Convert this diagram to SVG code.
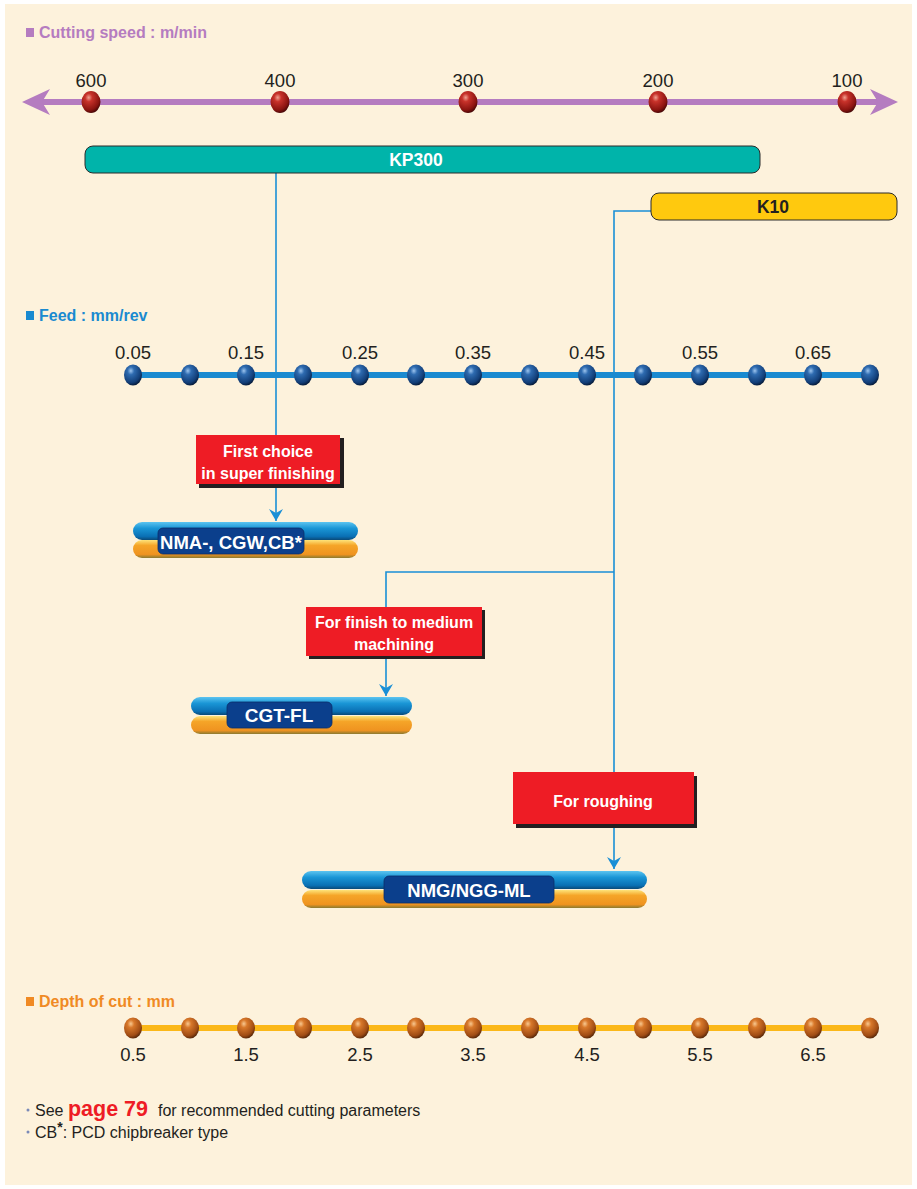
<svg xmlns="http://www.w3.org/2000/svg" width="917" height="1189" viewBox="0 0 917 1189">
<defs>
<style>
.ax{font-family:"Liberation Sans",Arial,sans-serif;font-size:18.5px;fill:#231f20;text-anchor:middle}
.ttl{font-family:"Liberation Sans",Arial,sans-serif;font-size:16px;font-weight:bold}
.wb{font-family:"Liberation Sans",Arial,sans-serif;font-weight:bold;fill:#fff;text-anchor:middle}
.conn{fill:none;stroke:#1a8fd6;stroke-width:1.6}
.red{fill:#ee1c25}
.sh{fill:#231f20}
.lbl{fill:#0b3f8c;stroke:#0a2f6a;stroke-width:0.8}
.foot{font-family:"Liberation Sans",Arial,sans-serif;font-size:16px;fill:#231f20}
</style>
<radialGradient id="gRed" cx="0.38" cy="0.3" r="0.75">
<stop offset="0" stop-color="#f0a090"/><stop offset="0.25" stop-color="#c8322a"/><stop offset="0.75" stop-color="#8a1410"/><stop offset="1" stop-color="#3a0505"/>
</radialGradient>
<radialGradient id="gBlue" cx="0.38" cy="0.3" r="0.75">
<stop offset="0" stop-color="#9cc4ee"/><stop offset="0.25" stop-color="#2e6bb0"/><stop offset="0.75" stop-color="#123e78"/><stop offset="1" stop-color="#04142c"/>
</radialGradient>
<radialGradient id="gOr" cx="0.38" cy="0.3" r="0.75">
<stop offset="0" stop-color="#f8c890"/><stop offset="0.25" stop-color="#d8782a"/><stop offset="0.75" stop-color="#a04c14"/><stop offset="1" stop-color="#4a2006"/>
</radialGradient>
<linearGradient id="gBar" x1="0" y1="0" x2="0" y2="1">
<stop offset="0" stop-color="#5cc4f0"/><stop offset="0.35" stop-color="#1a96d6"/><stop offset="0.8" stop-color="#0a70b4"/><stop offset="1" stop-color="#0a4a78"/>
</linearGradient>
<linearGradient id="gOrBar" x1="0" y1="0" x2="0" y2="1">
<stop offset="0" stop-color="#fde37a"/><stop offset="0.3" stop-color="#f5a528"/><stop offset="0.8" stop-color="#ef9320"/><stop offset="1" stop-color="#8a7a30"/>
</linearGradient>
<marker id="arr" viewBox="0 0 12 14" refX="12" refY="7" markerWidth="12" markerHeight="14" markerUnits="userSpaceOnUse" orient="auto">
<path d="M0,0 L12,7 L0,14 L4,7 z" fill="#1a8fd6"/>
</marker>
</defs>

<rect x="0" y="0" width="917" height="1189" fill="#ffffff"/>
<rect x="5" y="4" width="907" height="1181" fill="#fdf2dc"/>

<g id="speed-axis">
<rect x="26" y="28" width="8" height="9" fill="#b57cc0"/>
<text class="ttl" x="39" y="38" fill="#b57cc0">Cutting speed : m/min</text>
<rect x="40" y="99" width="838" height="6" fill="#b57cc0"/>
<path d="M22,102 L50,89 L42,102 L50,115 z" fill="#b57cc0"/>
<path d="M898,102 L870,89 L878,102 L870,115 z" fill="#b57cc0"/>
<g fill="url(#gRed)">
<ellipse cx="91" cy="102" rx="9.5" ry="11"/>
<ellipse cx="280" cy="102" rx="9.5" ry="11"/>
<ellipse cx="468" cy="102" rx="9.5" ry="11"/>
<ellipse cx="658" cy="102" rx="9.5" ry="11"/>
<ellipse cx="847" cy="102" rx="9.5" ry="11"/>
</g>
<text class="ax" x="91" y="87">600</text>
<text class="ax" x="280" y="87">400</text>
<text class="ax" x="468" y="87">300</text>
<text class="ax" x="658" y="87">200</text>
<text class="ax" x="847" y="87">100</text>
</g>

<g id="connectors">
<path class="conn" d="M276,173 V521" marker-end="url(#arr)"/>
<path class="conn" d="M651,211 H614 V869" marker-end="url(#arr)"/>
<path class="conn" d="M614,572 H386 V696" marker-end="url(#arr)"/>
</g>

<g id="kp300">
<rect x="85" y="146" width="675" height="27" rx="8" fill="#00b4aa" stroke="#2a2a2a" stroke-width="1"/>
<text class="wb" x="416" y="166" font-size="17.5">KP300</text>
</g>

<g id="k10">
<rect x="651" y="193" width="246" height="27" rx="8" fill="#ffc90e" stroke="#2a2a2a" stroke-width="1"/>
<text x="773" y="213" font-family="Liberation Sans, Arial, sans-serif" font-weight="bold" font-size="17.5" fill="#231f20" text-anchor="middle">K10</text>
</g>

<g id="feed-axis">
<rect x="26" y="311" width="8" height="9" fill="#1a8ad0"/>
<text class="ttl" x="39" y="321" fill="#1a8ad0">Feed : mm/rev</text>
<rect x="133" y="372" width="737" height="6" fill="#1a8ad0"/>
<g fill="url(#gBlue)">
<ellipse cx="133" cy="375" rx="9" ry="10.5"/>
<ellipse cx="190" cy="375" rx="9" ry="10.5"/>
<ellipse cx="246" cy="375" rx="9" ry="10.5"/>
<ellipse cx="303" cy="375" rx="9" ry="10.5"/>
<ellipse cx="360" cy="375" rx="9" ry="10.5"/>
<ellipse cx="416" cy="375" rx="9" ry="10.5"/>
<ellipse cx="473" cy="375" rx="9" ry="10.5"/>
<ellipse cx="530" cy="375" rx="9" ry="10.5"/>
<ellipse cx="587" cy="375" rx="9" ry="10.5"/>
<ellipse cx="643" cy="375" rx="9" ry="10.5"/>
<ellipse cx="700" cy="375" rx="9" ry="10.5"/>
<ellipse cx="757" cy="375" rx="9" ry="10.5"/>
<ellipse cx="813" cy="375" rx="9" ry="10.5"/>
<ellipse cx="870" cy="375" rx="9" ry="10.5"/>
</g>
<text class="ax" x="133" y="359">0.05</text>
<text class="ax" x="246" y="359">0.15</text>
<text class="ax" x="360" y="359">0.25</text>
<text class="ax" x="473" y="359">0.35</text>
<text class="ax" x="587" y="359">0.45</text>
<text class="ax" x="700" y="359">0.55</text>
<text class="ax" x="813" y="359">0.65</text>
</g>

<g id="note-super-finishing">
<rect class="sh" x="199" y="438" width="145" height="50"/>
<rect class="red" x="196" y="435" width="144" height="49"/>
<text class="wb" x="268" y="457" font-size="16">First choice</text>
<text class="wb" x="268" y="479" font-size="16">in super finishing</text>
</g>

<g id="insert-nma">
<rect x="133" y="540" width="225" height="18" rx="9" fill="url(#gOrBar)"/>
<rect x="133" y="522" width="225" height="18" rx="9" fill="url(#gBar)"/>
<rect class="lbl" x="158" y="528" width="146" height="26" rx="5"/>
<text class="wb" x="231" y="549" font-size="18.5">NMA-, CGW,CB*</text>
</g>

<g id="note-finish-medium">
<rect class="sh" x="309" y="610" width="176" height="49"/>
<rect class="red" x="306" y="607" width="176" height="49"/>
<text class="wb" x="394" y="628" font-size="16">For finish to medium</text>
<text class="wb" x="394" y="650" font-size="16">machining</text>
</g>

<g id="insert-cgt">
<rect x="191" y="716" width="221" height="18" rx="9" fill="url(#gOrBar)"/>
<rect x="191" y="697" width="221" height="18" rx="9" fill="url(#gBar)"/>
<rect class="lbl" x="227" y="702" width="105" height="26" rx="5"/>
<text class="wb" x="279" y="722" font-size="19">CGT-FL</text>
</g>

<g id="note-roughing">
<rect class="sh" x="516" y="776" width="181" height="52"/>
<rect class="red" x="513" y="772" width="181" height="52"/>
<text class="wb" x="603" y="807" font-size="16">For roughing</text>
</g>

<g id="insert-nmg">
<rect x="302" y="890" width="345" height="18" rx="9" fill="url(#gOrBar)"/>
<rect x="302" y="871" width="345" height="18" rx="9" fill="url(#gBar)"/>
<rect class="lbl" x="384" y="876" width="170" height="27" rx="5"/>
<text class="wb" x="469" y="897" font-size="18.5">NMG/NGG-ML</text>
</g>

<g id="depth-axis">
<rect x="26" y="997" width="8" height="9" fill="#f08a24"/>
<text class="ttl" x="39" y="1007" fill="#f08a24">Depth of cut : mm</text>
<rect x="133" y="1025" width="737" height="6" fill="#fbb819"/>
<g fill="url(#gOr)">
<ellipse cx="133" cy="1028" rx="9" ry="10.5"/>
<ellipse cx="190" cy="1028" rx="9" ry="10.5"/>
<ellipse cx="246" cy="1028" rx="9" ry="10.5"/>
<ellipse cx="303" cy="1028" rx="9" ry="10.5"/>
<ellipse cx="360" cy="1028" rx="9" ry="10.5"/>
<ellipse cx="416" cy="1028" rx="9" ry="10.5"/>
<ellipse cx="473" cy="1028" rx="9" ry="10.5"/>
<ellipse cx="530" cy="1028" rx="9" ry="10.5"/>
<ellipse cx="587" cy="1028" rx="9" ry="10.5"/>
<ellipse cx="643" cy="1028" rx="9" ry="10.5"/>
<ellipse cx="700" cy="1028" rx="9" ry="10.5"/>
<ellipse cx="757" cy="1028" rx="9" ry="10.5"/>
<ellipse cx="813" cy="1028" rx="9" ry="10.5"/>
<ellipse cx="870" cy="1028" rx="9" ry="10.5"/>
</g>
<text class="ax" x="133" y="1061">0.5</text>
<text class="ax" x="246" y="1061">1.5</text>
<text class="ax" x="360" y="1061">2.5</text>
<text class="ax" x="473" y="1061">3.5</text>
<text class="ax" x="587" y="1061">4.5</text>
<text class="ax" x="700" y="1061">5.5</text>
<text class="ax" x="813" y="1061">6.5</text>
</g>

<g id="footnotes">
<circle cx="28" cy="1110" r="1.5" fill="#7a8ab8"/>
<text class="foot" x="35" y="1116">See <tspan font-size="21.5" font-weight="bold" fill="#ee1c25">page 79</tspan><tspan x="158">for recommended cutting parameters</tspan></text>
<circle cx="28" cy="1132" r="1.5" fill="#7a8ab8"/>
<text class="foot" x="35" y="1138">CB<tspan dy="-6" font-size="14" font-weight="bold">*</tspan><tspan dy="6">: PCD chipbreaker type</tspan></text>
</g>
</svg>
